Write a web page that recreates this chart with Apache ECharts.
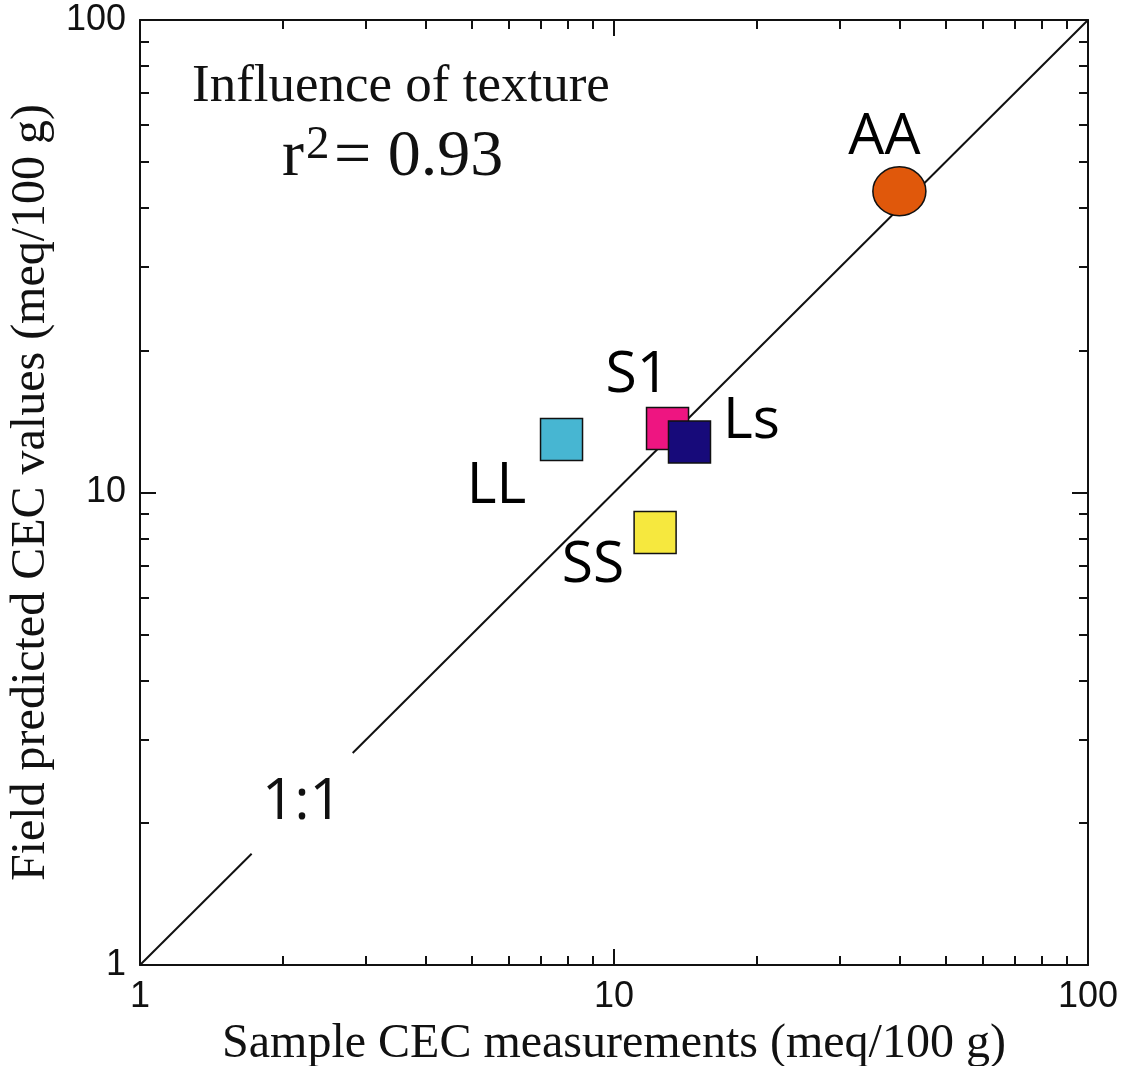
<!DOCTYPE html>
<html>
<head>
<meta charset="utf-8">
<script src="https://cdn.jsdelivr.net/npm/echarts@6/dist/echarts.min.js"></script>
<style>
  html, body { margin: 0; padding: 0; background: #fff; }
  #main { width: 1126px; height: 1066px; }
</style>
</head>
<body>
<div id="main"></div>
<script>
var myChart = echarts.init(document.getElementById('main'));

// samples: name, measured CEC (x), field predicted CEC (y)
var names = ['LL', 'S1', 'Ls', 'SS', 'AA'];
var measured = [7.75, 12.97, 14.43, 12.21, 40.0];
var predicted = [12.95, 13.66, 12.79, 8.23, 43.4];

// 1:1 line, broken where the "1:1" label sits
var lineFrom = [1, 2.81];
var lineTo = [1.72, 100];

var majorTicks = [1, 10, 100];
var minorTicks = [2, 3, 4, 5, 6, 7, 8, 9, 20, 30, 40, 50, 60, 70, 80, 90];

var colors = {
	LL: '#47B6D2',
	S1: '#EE1581',
	Ls: '#170A7A',
	SS: '#F6E83E',
	AA: '#E0580B'
};
// label offset from the symbol centre
var labelOffset = {
	LL: [-65, 47],
	S1: [-30, -53],
	Ls: [62, -20],
	SS: [-62, 33],
	AA: [-15, -54]
};

var sansFont = '"Open Sans", sans-serif';
var serifFont = '"Liberation Serif", "Times New Roman", serif';
var black = '#111';

function makeAxis(pos, ticks, len, showLine, showLabel) {
	var ax = {
		type: 'log',
		logBase: 10,
		min: 1,
		max: 100,
		position: pos,
		gridIndex: 0,
		axisLine: { show: showLine, lineStyle: { color: black, width: 2 } },
		axisTick: {
			show: true,
			inside: true,
			length: len,
			customValues: ticks,
			lineStyle: { color: black, width: 2 }
		},
		axisLabel: { show: false },
		splitLine: { show: false },
		minorTick: { show: false },
		minorSplitLine: { show: false }
	};
	if (showLabel) {
		ax.axisLabel = {
			show: true,
			customValues: majorTicks,
			fontFamily: '"Liberation Sans", Arial, sans-serif',
			fontSize: 36,
			color: black,
			margin: 14
		};
	}
	return ax;
}

var xMain = makeAxis('bottom', minorTicks, 9, true, true);
xMain.name = 'Sample CEC measurements (meq/100 g)';
xMain.nameLocation = 'middle';
xMain.nameGap = 52;
xMain.nameTextStyle = { fontFamily: serifFont, fontSize: 48, color: black };

var yMain = makeAxis('left', minorTicks, 9, true, true);
yMain.name = 'Field predicted CEC values (meq/100 g)';
yMain.nameLocation = 'middle';
yMain.nameGap = 80;
yMain.nameTextStyle = { fontFamily: serifFont, fontSize: 48, color: black };

var scatterData = names.map(function (n, i) {
	return {
		name: n,
		value: [measured[i], predicted[i]],
		symbol: n === 'AA' ? 'circle' : 'rect',
		symbolSize: n === 'AA' ? [53, 49] : 42,
		itemStyle: { color: colors[n], borderColor: black, borderWidth: 1.5, opacity: 1 },
		label: { offset: labelOffset[n] }
	};
});

var lineSeries = lineFrom.map(function (a, i) {
	return {
		type: 'line',
		xAxisIndex: 0,
		yAxisIndex: 0,
		symbol: 'none',
		silent: true,
		lineStyle: { color: black, width: 2 },
		data: [[a, a], [lineTo[i], lineTo[i]]],
		z: 1
	};
});

option = {
	backgroundColor: '#fff',
	animation: false,
	grid: {
		left: 140,
		right: 38,
		top: 20,
		bottom: 101,
		containLabel: false,
		outerBoundsMode: 'none'
	},
	xAxis: [
		xMain,
		makeAxis('bottom', [10], 16, false, false),
		makeAxis('top', minorTicks, 9, true, false),
		makeAxis('top', [10], 16, false, false)
	],
	yAxis: [
		yMain,
		makeAxis('left', [10], 16, false, false),
		makeAxis('right', minorTicks, 9, true, false),
		makeAxis('right', [10], 16, false, false)
	],
	series: lineSeries.concat([{
		type: 'scatter',
		xAxisIndex: 0,
		yAxisIndex: 0,
		z: 3,
		itemStyle: { opacity: 1 },
		label: {
			show: true,
			position: 'inside',
			formatter: '{b}',
			fontFamily: sansFont,
			fontSize: 57,
			color: '#000',
			opacity: 1,
			align: 'center',
			verticalAlign: 'middle'
		},
		emphasis: { disabled: true },
		data: scatterData
	}]),
	graphic: [
		{
			type: 'text',
			left: 192,
			top: 61,
			style: { text: 'Influence of texture', font: '53px ' + serifFont, fill: black }
		},
		{
			type: 'text',
			left: 282,
			top: 125,
			style: { text: 'r', font: '66px ' + serifFont, fill: black }
		},
		{
			type: 'text',
			left: 306,
			top: 122,
			style: { text: '2', font: '47px ' + serifFont, fill: black }
		},
		{
			type: 'text',
			left: 334,
			top: 125,
			style: { text: '= 0.93', font: '66px ' + serifFont, fill: black }
		},
		{
			type: 'text',
			left: 262,
			top: 774,
			style: { text: '1:1', font: '57px ' + sansFont, fill: black }
		}
	]
};

myChart.setOption(option);
window.addEventListener('resize', function () {
	myChart.resize();
});
</script>
</body>
</html>
